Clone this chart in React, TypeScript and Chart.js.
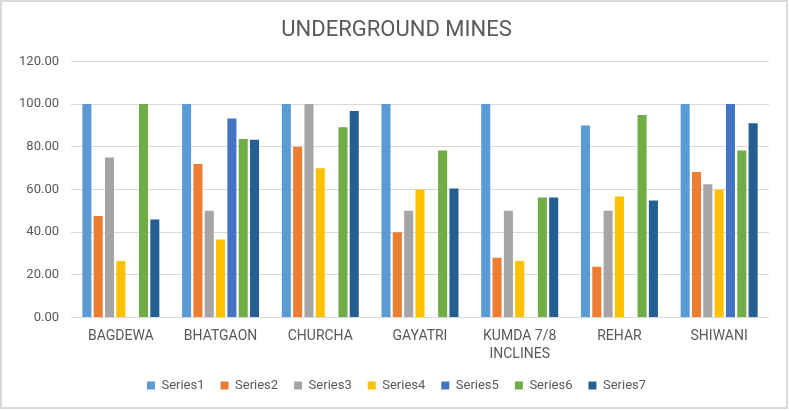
import React, { useEffect, useRef } from 'react';
import { Chart, registerables } from 'chart.js';

Chart.register(...registerables);

const categories = ['BAGDEWA', 'BHATGAON', 'CHURCHA', 'GAYATRI', ['KUMDA 7/8', 'INCLINES'], 'REHAR', 'SHIWANI'];
const series1 = [100, 100, 100, 100, 100, 90, 100];
const series2 = [47.6, 72, 80, 40, 28, 23.8, 68.2];
const series3 = [75, 50, 100, 50, 50, 50, 62.5];
const series4 = [26.5, 36.6, 70, 60, 26.5, 56.7, 60];
const series5 = [0, 93.3, 0, 0, 0, 0, 100];
const series6 = [100, 83.7, 89.2, 78.3, 56.3, 94.9, 78.3];
const series7 = [46, 83.3, 96.8, 60.5, 56.3, 54.8, 91];
const seriesNames = ['Series1', 'Series2', 'Series3', 'Series4', 'Series5', 'Series6', 'Series7'];
const seriesColors = ['#5B9BD5', '#ED7D31', '#A5A5A5', '#FFC000', '#4472C4', '#70AD47', '#255E91'];

const FONT = 'Roboto, "Liberation Sans", sans-serif';
const TEXT = '#595959';

// white background + light outer frame, like the Excel chart box
const framePlugin = {
    id: 'frame',
    afterLayout(chart) {
        // Excel centres title and legend on the whole box, a bit right of Chart.js
        for (const box of [chart.titleBlock, chart.legend]) {
            if (box) {
                box.left += 12;
                box.right += 12;
            }
        }
    },
    beforeDraw(chart) {
        const { ctx, width, height } = chart;
        ctx.save();
        ctx.fillStyle = '#ffffff';
        ctx.fillRect(0, 0, width, height);
        ctx.strokeStyle = '#d9d9d9';
        ctx.lineWidth = 2;
        ctx.strokeRect(1, 1, width - 3, height - 4);
        ctx.restore();
    },
};

const App = () => {
    const chartRef = useRef<HTMLCanvasElement | null>(null);
    const chartInstanceRef = useRef<Chart | null>(null);

    useEffect(() => {
        document.body.style.margin = '0';
        const ctx = chartRef.current?.getContext('2d');
        if (ctx) {
            const values = [series1, series2, series3, series4, series5, series6, series7];
            chartInstanceRef.current = new Chart(ctx, {
                type: 'bar',
                data: {
                    labels: categories,
                    datasets: values.map((data, i) => ({
                        label: seriesNames[i],
                        data,
                        backgroundColor: seriesColors[i],
                        borderWidth: 0,
                        barPercentage: 0.8,
                        categoryPercentage: 0.795,
                    })),
                },
                options: {
                    responsive: false,
                    animation: false,
                    layout: { padding: { left: 0, right: 20, top: 0, bottom: 9 } },
                    plugins: {
                        title: {
                            display: true,
                            text: 'UNDERGROUND MINES',
                            color: TEXT,
                            font: { family: FONT, size: 22, weight: 'normal', lineHeight: 1.2 },
                            padding: { top: 17, bottom: 18 },
                        },
                        legend: {
                            position: 'bottom',
                            labels: {
                                color: TEXT,
                                font: { family: FONT, size: 13, lineHeight: 1.2 },
                                boxWidth: 8,
                                boxHeight: 8,
                                padding: 16,
                            },
                        },
                        tooltip: { enabled: false },
                    },
                    scales: {
                        x: {
                            afterFit: (scale) => {
                                scale.height -= 11;
                            },
                            grid: { display: false, drawTicks: false },
                            border: { display: false },
                            ticks: {
                                color: TEXT,
                                font: { family: FONT, size: 14, lineHeight: 1.3 },
                                padding: 10,
                                maxRotation: 0,
                                autoSkip: false,
                            },
                        },
                        y: {
                            min: 0,
                            max: 120,
                            afterFit: (scale) => {
                                scale.width = 71;
                            },
                            grid: { color: '#d9d9d9', drawTicks: false },
                            border: { display: false },
                            ticks: {
                                stepSize: 20,
                                color: TEXT,
                                font: { family: FONT, size: 13 },
                                padding: 12,
                                callback: (v) => Number(v).toFixed(2),
                            },
                        },
                    },
                },
                plugins: [framePlugin],
            });
        }
        return () => {
            chartInstanceRef.current?.destroy();
        };
    }, []);

    return (
        <div style={{ width: 789, height: 411 }}>
            <canvas ref={chartRef} width={789} height={411} />
        </div>
    );
};

export default App;
